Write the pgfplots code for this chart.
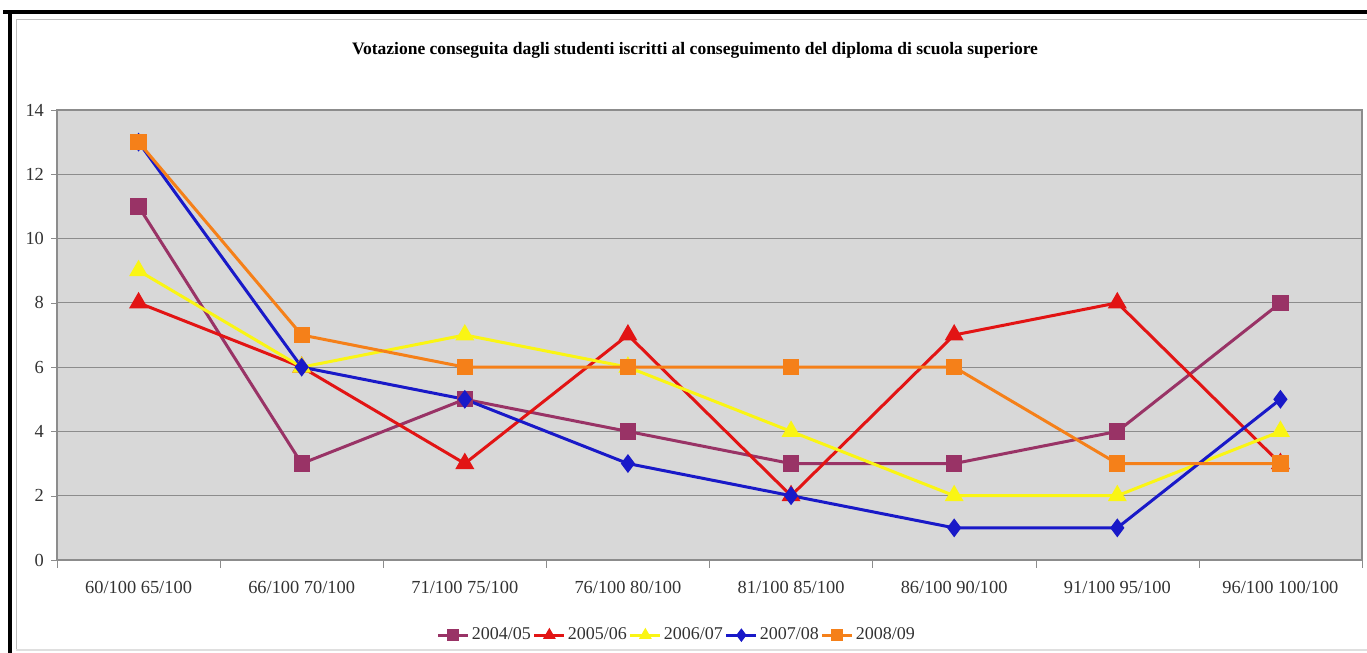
\documentclass[border=0pt]{standalone}
\usepackage{fontspec}
\setmainfont{Liberation Serif}
\usepackage{pgfplots}
\pgfplotsset{compat=1.18}
\definecolor{bgplot}{RGB}{216,216,216}
\definecolor{gridc}{RGB}{140,140,140}
\definecolor{testo}{RGB}{50,50,50}
\definecolor{viola}{RGB}{153,51,102}
\definecolor{rosso}{RGB}{226,20,20}
\definecolor{giallo}{RGB}{250,245,20}
\definecolor{blu}{RGB}{25,25,200}
\definecolor{arancio}{RGB}{245,128,25}
\begin{document}
\begin{tikzpicture}
\useasboundingbox (0,0) rectangle (683.5pt,326.5pt);
% cornice
\draw[line width=2pt] (1.5pt,320.5pt) -- (683.5pt,320.5pt);
\draw[line width=2pt] (5pt,320.5pt) -- (5pt,0pt);
\draw[gray!50, line width=0.5pt] (8pt,1.5pt) -- (8pt,316.5pt) -- (683.5pt,316.5pt);
\draw[gray!25, line width=0.8pt] (8pt,1.5pt) -- (683.5pt,1.5pt);
\node[font=\bfseries\fontsize{8.75}{10}\selectfont] at (347.5pt,301.5pt)
  {Votazione conseguita dagli studenti iscritti al conseguimento del diploma di scuola superiore};
\begin{axis}[
  at={(28.5pt,46.5pt)}, anchor=south west,
  scale only axis, width=652.5pt, height=225pt,
  xmin=-0.5, xmax=7.5, ymin=0, ymax=14,
  xtick={0,...,7},
  xticklabels={60/100 65/100,66/100 70/100,71/100 75/100,76/100 80/100,81/100 85/100,86/100 90/100,91/100 95/100,96/100 100/100},
  minor xtick={-0.5,0.5,...,7.5},
  ytick={0,2,...,14},
  tick pos=left,
  tick align=outside,
  major x tick style={draw=none},
  minor tick length=4pt,
  major tick length=3pt,
  tick style={gridc},
  ymajorgrids, grid style={gridc, line width=0.6pt},
  axis line style={gridc, line width=0.6pt},
  axis background/.style={fill=bgplot},
  tick label style={font=\fontsize{9.2}{11}\selectfont, text=testo},
  /pgf/number format/assume math mode=true,
  xticklabel style={yshift=-4pt},
  legend columns=5,
  legend style={at={(0.475,-0.167)}, anchor=center, draw=none, fill=none,
    font=\fontsize{9}{11}\selectfont, column sep=0pt,
    nodes={inner sep=1pt, text=testo}},
  legend image code/.code={
    \draw[line width=1.5pt] (0pt,0pt) -- (15pt,0pt);
    \draw[line width=1.5pt, mark size=2.2pt, #1] plot coordinates {(7.5pt,0pt)};},
  every axis plot/.append style={line width=1.5pt},
]
\addplot[viola, mark=square*, mark size=3.3pt, mark options={solid, fill=viola}] coordinates {
  (0,11) (1,3) (2,5) (3,4) (4,3) (5,3) (6,4) (7,8)};
\addlegendentry{2004/05}
\addplot[rosso, mark=triangle*, mark size=4pt, mark options={solid, fill=rosso}] coordinates {
  (0,8) (1,6) (2,3) (3,7) (4,2) (5,7) (6,8) (7,3)};
\addlegendentry{2005/06}
\addplot[giallo, mark=triangle*, mark size=4pt, mark options={solid, fill=giallo}] coordinates {
  (0,9) (1,6) (2,7) (3,6) (4,4) (5,2) (6,2) (7,4)};
\addlegendentry{2006/07}
\addplot[blu, mark=diamond*, mark size=3.5pt, mark options={solid, fill=blu}] coordinates {
  (0,13) (1,6) (2,5) (3,3) (4,2) (5,1) (6,1) (7,5)};
\addlegendentry{2007/08}
\addplot[arancio, mark=square*, mark size=3.3pt, mark options={solid, fill=arancio}] coordinates {
  (0,13) (1,7) (2,6) (3,6) (4,6) (5,6) (6,3) (7,3)};
\addlegendentry{2008/09}
\end{axis}
\end{tikzpicture}
\end{document}
